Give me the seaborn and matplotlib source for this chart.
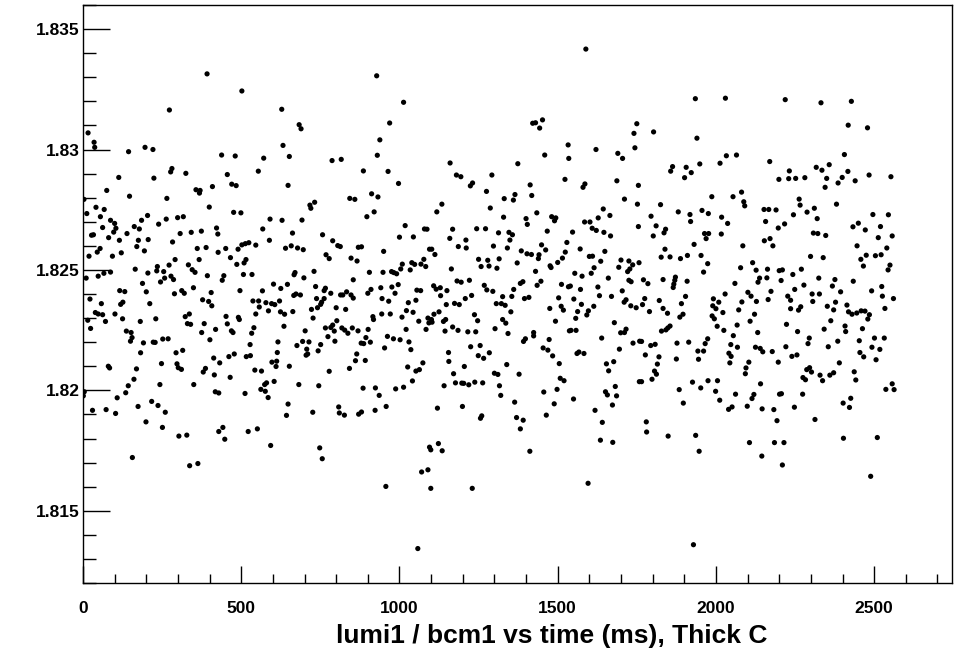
import matplotlib
matplotlib.use("Agg")
import matplotlib.pyplot as plt
from matplotlib.ticker import MultipleLocator, FuncFormatter
import seaborn as sns
import pandas as pd

plt.rcParams['font.family'] = ['Liberation Sans', 'DejaVu Sans']

# time (ms) of each measurement
time_ms = [
    # 0 - 210
    16, 35, 37, 144, 196, 113, 75, 147, 3, 12,
    41, 67, 55, 204, 185, 87, 100, 104, 33, 27,
    62, 162, 178, 139, 97, 81, 115, 175, 206, 170,
    194, 19, 54, 45, 93, 121, 165, 205, 10, 48,
    66, 87, 188, 116, 132, 200, 211, 22, 58, 126,
    119, 39, 48, 62, 15, 24, 71, 101, 125, 181,
    137, 152, 155, 150, 191, 182, 80, 84, 169, 161,
    143, 4, 1, 135, 108, 174, 30, 73, 103, 199,
    156,
    # 210 - 430
    392, 273, 221, 281, 277, 325, 224, 409, 357, 370,
    368, 265, 399, 263, 239, 299, 317, 307, 342, 374,
    422, 426, 283, 361, 389, 367, 427, 291, 272, 235,
    233, 255, 333, 345, 354, 258, 245, 278, 286, 393,
    349, 312, 320, 289, 405, 378, 397, 407, 230, 336,
    323, 330, 340, 383, 419, 375, 401, 252, 269, 222,
    228, 315, 294, 413, 432, 248, 297, 301, 311, 387,
    380, 415, 243, 350, 418, 429, 217, 237, 260, 251,
    303, 328, 429, 337, 363,
    # 430 - 655
    502, 628, 632, 438, 481, 571, 652, 554, 456, 470,
    484, 648, 476, 499, 591, 629, 568, 589, 502, 524,
    546, 513, 490, 451, 466, 486, 509, 515, 640, 445,
    440, 507, 534, 496, 567, 602, 625, 646, 537, 555,
    578, 596, 606, 621, 557, 586, 546, 624, 637, 452,
    491, 494, 456, 469, 474, 540, 533, 635, 528, 616,
    478, 461, 516, 529, 614, 597, 612, 610, 652, 543,
    564, 465, 604, 580, 574, 562, 576, 585, 512, 648,
    643, 442, 448, 522, 551, 593,
    # 655 - 875
    683, 689, 787, 816, 843, 859, 732, 717, 720, 692,
    662, 757, 789, 805, 813, 658, 678, 696, 870, 768,
    778, 847, 866, 730, 670, 667, 698, 854, 735, 766,
    762, 783, 814, 821, 833, 847, 854, 673, 666, 687,
    738, 762, 754, 751, 800, 830, 722, 741, 663, 727,
    802, 789, 783, 766, 818, 827, 837, 851, 869, 702,
    794, 774, 796, 694, 714, 676, 751, 707, 743, 865,
    710, 705, 861, 842, 778, 682, 745, 726, 808, 810,
    826, 871, 748, 756,
    # 875 - 1100
    928, 1013, 969, 938, 930, 886, 964, 997, 912, 932,
    920, 897, 1018, 1079, 1087, 1000, 1044, 880, 950, 1095,
    1077, 1068, 1083, 1039, 1048, 1034, 1009, 1004, 975, 982,
    991, 948, 905, 996, 976, 986, 941, 910, 900, 945,
    966, 1055, 1067, 1028, 1052, 1022, 1043, 1008, 971, 944,
    916, 918, 1061, 1090, 1093, 1084, 1021, 901, 894, 879,
    887, 908, 962, 981, 1002, 1030, 1036, 953, 892, 1074,
    1063, 1052, 1026, 1041, 885, 924, 936, 988, 1013, 880,
    923, 958, 1095, 1090, 1070, 957, 1058,
    # 1100 - 1320
    1160, 1180, 1194, 1292, 1231, 1224, 1275, 1287, 1134, 1118,
    1168, 1244, 1272, 1313, 1159, 1210, 1186, 1211, 1297, 1102,
    1112, 1250, 1279, 1315, 1258, 1283, 1308, 1164, 1182, 1195,
    1221, 1268, 1276, 1295, 1108, 1116, 1129, 1150, 1130, 1208,
    1228, 1148, 1174, 1189, 1306, 1125, 1109, 1101, 1103, 1146,
    1139, 1237, 1247, 1168, 1185, 1144, 1216, 1241, 1302, 1225,
    1255, 1249, 1266, 1284, 1155, 1156, 1205, 1171, 1177, 1238,
    1263, 1300, 1311, 1141, 1197, 1203, 1219, 1316, 1120, 1199,
    1260, 1256, 1123, 1099, 1135, 1099, 1230,
    # 1320 - 1540
    1421, 1430, 1452, 1443, 1459, 1533, 1535, 1374, 1523, 1413,
    1418, 1331, 1365, 1360, 1434, 1329, 1400, 1404, 1481, 1494,
    1490, 1467, 1346, 1357, 1349, 1341, 1449, 1462, 1529, 1524,
    1385, 1403, 1417, 1441, 1439, 1515, 1500, 1476, 1479, 1372,
    1430, 1447, 1435, 1390, 1382, 1361, 1512, 1534, 1355, 1326,
    1322, 1334, 1395, 1409, 1503, 1352, 1475, 1511, 1518, 1326,
    1336, 1493, 1343, 1424, 1424, 1398, 1392, 1537, 1473, 1454,
    1469, 1484, 1505, 1339, 1378, 1508, 1520, 1320, 1498, 1456,
    1364, 1489, 1464, 1370, 1391, 1382, 1412,
    # 1540 - 1760
    1589, 1750, 1741, 1744, 1621, 1690, 1705, 1687, 1586, 1580,
    1755, 1711, 1752, 1644, 1665, 1628, 1585, 1602, 1609, 1622,
    1646, 1667, 1547, 1755, 1571, 1649, 1600, 1610, 1636, 1700,
    1725, 1737, 1728, 1721, 1693, 1757, 1615, 1606, 1554, 1577,
    1660, 1725, 1732, 1540, 1572, 1627, 1632, 1670, 1704, 1551,
    1575, 1614, 1716, 1710, 1731, 1748, 1563, 1597, 1592, 1557,
    1679, 1542, 1558, 1716, 1711, 1699, 1639, 1738, 1759, 1695,
    1567, 1561, 1583, 1677, 1654, 1661, 1758, 1682, 1651, 1657,
    1686, 1550, 1618, 1673, 1641, 1635, 1674, 1596,
    # 1760 - 1980
    1935, 1803, 1940, 1863, 1857, 1906, 1922, 1901, 1949, 1825,
    1795, 1881, 1918, 1920, 1956, 1976, 1811, 1841, 1836, 1802,
    1964, 1977, 1969, 1839, 1827, 1855, 1888, 1910, 1931, 1953,
    1974, 1961, 1771, 1785, 1833, 1872, 1870, 1867, 1865, 1909,
    1904, 1775, 1768, 1821, 1833, 1847, 1891, 1790, 1896, 1886,
    1855, 1848, 1842, 1828, 1765, 1794, 1808, 1777, 1820, 1815,
    1877, 1914, 1974, 1966, 1943, 1961, 1945, 1875, 1806, 1812,
    1798, 1765, 1926, 1975, 1952, 1884, 1897, 1780, 1781, 1849,
    1936, 1947, 1929,
    # 1980 - 2200
    2030, 2013, 2033, 2065, 2170, 2199, 1987, 2054, 2081, 2088,
    2091, 2152, 2167, 2190, 2018, 2037, 2157, 2197, 2017, 2085,
    2153, 2171, 2180, 2116, 2078, 2127, 2138, 2133, 2161, 2163,
    2200, 2060, 2174, 2029, 2101, 2111, 1992, 2009, 1990, 2000,
    2022, 2082, 2128, 2165, 2072, 2122, 1988, 1995, 2004, 2108,
    2067, 2025, 2132, 2055, 2047, 2068, 2125, 2140, 2148, 2178,
    2041, 2048, 2044, 2104, 2095, 2093, 2197, 2005, 2141, 1999,
    2012, 2062, 2120, 2114, 2201, 2040, 2051, 2099, 2146, 2183,
    2193, 2106, 2185, 2145,
    # 2200 - 2425
    2219, 2332, 2418, 2406, 2358, 2317, 2335, 2232, 2230, 2252,
    2281, 2350, 2345, 2399, 2386, 2417, 2263, 2266, 2381, 2245,
    2288, 2311, 2320, 2217, 2308, 2322, 2347, 2299, 2339, 2210,
    2270, 2243, 2206, 2325, 2376, 2368, 2394, 2278, 2249, 2227,
    2236, 2304, 2327, 2306, 2236, 2261, 2268, 2352, 2378, 2372,
    2414, 2419, 2223, 2258, 2363, 2342, 2408, 2410, 2295, 2291,
    2385, 2221, 2355, 2240, 2256, 2390, 2287, 2296, 2302, 2275,
    2283, 2329, 2337, 2360, 2372, 2207, 2274, 2248, 2402, 2422,
    2313, 2403, 2215, 2210,
    # 2425 - 2565
    2428, 2479, 2440, 2484, 2553, 2496, 2545, 2433, 2450, 2472,
    2520, 2557, 2513, 2446, 2540, 2458, 2475, 2504, 2522, 2466,
    2550, 2544, 2434, 2492, 2524, 2526, 2561, 2534, 2430, 2445,
    2459, 2471, 2485, 2480, 2463, 2453, 2501, 2532, 2493, 2518,
    2455, 2467, 2506, 2437, 2442, 2537, 2557, 2563, 2426, 2510,
    2489,
]

# lumi1 / bcm1 ratio of each measurement (same order)
ratio = [
    # 0 - 210
    1.83069, 1.83030, 1.83009, 1.82991, 1.83009, 1.82884, 1.82830, 1.82806, 1.82793, 1.82734,
    1.82760, 1.82751, 1.82721, 1.82726, 1.82706, 1.82706, 1.82693, 1.82673, 1.82646, 1.82644,
    1.82676, 1.82680, 1.82670, 1.82651, 1.82657, 1.82634, 1.82623, 1.82623, 1.82626, 1.82597,
    1.82579, 1.82557, 1.82589, 1.82574, 1.82557, 1.82571, 1.82503, 1.82487, 1.82466, 1.82474,
    1.82486, 1.82491, 1.82444, 1.82414, 1.82410, 1.82409, 1.82360, 1.82379, 1.82360, 1.82366,
    1.82357, 1.82323, 1.82317, 1.82314, 1.82291, 1.82257, 1.82286, 1.82317, 1.82297, 1.82286,
    1.82246, 1.82240, 1.82219, 1.82204, 1.82197, 1.82156, 1.82100, 1.82093, 1.82089, 1.82046,
    1.82019, 1.81994, 1.81977, 1.81990, 1.81969, 1.81933, 1.81917, 1.81920, 1.81904, 1.81869,
    1.81721,
    # 210 - 430
    1.83314, 1.83164, 1.83000, 1.82921, 1.82907, 1.82901, 1.82881, 1.82846, 1.82833, 1.82830,
    1.82819, 1.82797, 1.82761, 1.82711, 1.82690, 1.82717, 1.82721, 1.82651, 1.82656, 1.82661,
    1.82674, 1.82649, 1.82616, 1.82589, 1.82593, 1.82543, 1.82573, 1.82543, 1.82520, 1.82514,
    1.82496, 1.82493, 1.82521, 1.82501, 1.82490, 1.82466, 1.82450, 1.82474, 1.82460, 1.82476,
    1.82426, 1.82414, 1.82403, 1.82401, 1.82406, 1.82376, 1.82369, 1.82351, 1.82297, 1.82317,
    1.82306, 1.82277, 1.82274, 1.82277, 1.82253, 1.82240, 1.82210, 1.82213, 1.82214, 1.82200,
    1.82199, 1.82166, 1.82156, 1.82134, 1.82114, 1.82111, 1.82110, 1.82094, 1.82087, 1.82091,
    1.82076, 1.82064, 1.82024, 1.82024, 1.81994, 1.81989, 1.81954, 1.81937, 1.81909, 1.81846,
    1.81810, 1.81814, 1.81829, 1.81687, 1.81696,
    # 430 - 655
    1.83243, 1.83167, 1.83017, 1.82977, 1.82973, 1.82964, 1.82971, 1.82910, 1.82896, 1.82856,
    1.82850, 1.82851, 1.82739, 1.82737, 1.82711, 1.82706, 1.82670, 1.82623, 1.82604, 1.82613,
    1.82603, 1.82609, 1.82586, 1.82589, 1.82551, 1.82523, 1.82529, 1.82543, 1.82590, 1.82476,
    1.82457, 1.82481, 1.82481, 1.82414, 1.82413, 1.82441, 1.82423, 1.82440, 1.82371, 1.82371,
    1.82364, 1.82360, 1.82356, 1.82371, 1.82346, 1.82330, 1.82317, 1.82326, 1.82316, 1.82307,
    1.82303, 1.82294, 1.82276, 1.82247, 1.82240, 1.82260, 1.82237, 1.82266, 1.82190, 1.82201,
    1.82151, 1.82140, 1.82140, 1.82144, 1.82157, 1.82117, 1.82121, 1.82099, 1.82100, 1.82084,
    1.82080, 1.82054, 1.82037, 1.82031, 1.82024, 1.82004, 1.81996, 1.81970, 1.81987, 1.81943,
    1.81896, 1.81846, 1.81797, 1.81829, 1.81840, 1.81771,
    # 655 - 875
    1.83103, 1.83086, 1.82954, 1.82959, 1.82797, 1.82793, 1.82781, 1.82769, 1.82756, 1.82707,
    1.82653, 1.82646, 1.82621, 1.82601, 1.82597, 1.82600, 1.82591, 1.82584, 1.82594, 1.82563,
    1.82547, 1.82549, 1.82537, 1.82494, 1.82489, 1.82480, 1.82467, 1.82459, 1.82431, 1.82424,
    1.82414, 1.82403, 1.82396, 1.82396, 1.82409, 1.82396, 1.82383, 1.82400, 1.82394, 1.82396,
    1.82381, 1.82381, 1.82366, 1.82357, 1.82343, 1.82336, 1.82336, 1.82343, 1.82327, 1.82300,
    1.82289, 1.82271, 1.82261, 1.82259, 1.82259, 1.82250, 1.82237, 1.82259, 1.82247, 1.82247,
    1.82246, 1.82223, 1.82204, 1.82203, 1.82201, 1.82186, 1.82190, 1.82171, 1.82164, 1.82151,
    1.82151, 1.82146, 1.82123, 1.82091, 1.82079, 1.82024, 1.82019, 1.81909, 1.81931, 1.81906,
    1.81897, 1.81901, 1.81761, 1.81716,
    # 875 - 1100
    1.83306, 1.83196, 1.83110, 1.83040, 1.82976, 1.82911, 1.82909, 1.82859, 1.82816, 1.82803,
    1.82741, 1.82721, 1.82684, 1.82670, 1.82669, 1.82636, 1.82637, 1.82596, 1.82577, 1.82586,
    1.82544, 1.82524, 1.82514, 1.82530, 1.82523, 1.82500, 1.82524, 1.82504, 1.82493, 1.82489,
    1.82484, 1.82490, 1.82490, 1.82439, 1.82429, 1.82403, 1.82426, 1.82419, 1.82403, 1.82381,
    1.82370, 1.82416, 1.82414, 1.82364, 1.82374, 1.82331, 1.82324, 1.82304, 1.82317, 1.82317,
    1.82306, 1.82294, 1.82287, 1.82300, 1.82280, 1.82253, 1.82253, 1.82253, 1.82219, 1.82196,
    1.82194, 1.82200, 1.82224, 1.82214, 1.82210, 1.82201, 1.82169, 1.82176, 1.82124, 1.82114,
    1.82086, 1.82080, 1.82097, 1.82039, 1.82009, 1.82010, 1.81979, 1.82006, 1.82013, 1.81910,
    1.81917, 1.81933, 1.81764, 1.81670, 1.81661, 1.81601, 1.81343,
    # 1100 - 1320
    1.82944, 1.82894, 1.82887, 1.82894, 1.82861, 1.82849, 1.82826, 1.82757, 1.82773, 1.82741,
    1.82669, 1.82671, 1.82671, 1.82654, 1.82631, 1.82624, 1.82597, 1.82591, 1.82599, 1.82586,
    1.82564, 1.82544, 1.82540, 1.82546, 1.82514, 1.82516, 1.82507, 1.82504, 1.82454, 1.82449,
    1.82457, 1.82436, 1.82417, 1.82411, 1.82434, 1.82420, 1.82426, 1.82414, 1.82393, 1.82381,
    1.82394, 1.82356, 1.82361, 1.82356, 1.82360, 1.82326, 1.82316, 1.82294, 1.82283, 1.82294,
    1.82286, 1.82314, 1.82289, 1.82263, 1.82249, 1.82246, 1.82243, 1.82243, 1.82256, 1.82181,
    1.82186, 1.82144, 1.82133, 1.82156, 1.82157, 1.82120, 1.82099, 1.82069, 1.82031, 1.82034,
    1.82031, 1.82071, 1.82066, 1.82019, 1.82030, 1.82029, 1.82023, 1.82019, 1.81926, 1.81933,
    1.81894, 1.81884, 1.81779, 1.81753, 1.81749, 1.81593, 1.81593,
    # 1320 - 1540
    1.83109, 1.83111, 1.83123, 1.83089, 1.82977, 1.83019, 1.82963, 1.82941, 1.82876, 1.82853,
    1.82809, 1.82796, 1.82813, 1.82790, 1.82737, 1.82719, 1.82713, 1.82689, 1.82721, 1.82716,
    1.82704, 1.82661, 1.82656, 1.82646, 1.82624, 1.82591, 1.82604, 1.82583, 1.82614, 1.82574,
    1.82579, 1.82567, 1.82564, 1.82563, 1.82547, 1.82549, 1.82531, 1.82517, 1.82510, 1.82529,
    1.82494, 1.82453, 1.82436, 1.82451, 1.82444, 1.82419, 1.82440, 1.82430, 1.82390, 1.82389,
    1.82360, 1.82353, 1.82381, 1.82386, 1.82384, 1.82326, 1.82340, 1.82349, 1.82333, 1.82294,
    1.82279, 1.82287, 1.82236, 1.82240, 1.82226, 1.82214, 1.82203, 1.82247, 1.82211, 1.82176,
    1.82167, 1.82143, 1.82111, 1.82107, 1.82067, 1.82050, 1.82040, 1.81979, 1.82004, 1.81993,
    1.81951, 1.81944, 1.81897, 1.81887, 1.81876, 1.81840, 1.81747,
    # 1540 - 1760
    1.83417, 1.83107, 1.83067, 1.83007, 1.83000, 1.82984, 1.82963, 1.82870, 1.82857, 1.82843,
    1.82851, 1.82794, 1.82773, 1.82753, 1.82726, 1.82716, 1.82699, 1.82699, 1.82673, 1.82664,
    1.82656, 1.82641, 1.82657, 1.82680, 1.82587, 1.82577, 1.82556, 1.82557, 1.82536, 1.82541,
    1.82537, 1.82521, 1.82504, 1.82493, 1.82511, 1.82530, 1.82509, 1.82486, 1.82486, 1.82474,
    1.82466, 1.82457, 1.82451, 1.82433, 1.82419, 1.82429, 1.82393, 1.82390, 1.82413, 1.82379,
    1.82357, 1.82349, 1.82376, 1.82366, 1.82351, 1.82343, 1.82327, 1.82330, 1.82313, 1.82299,
    1.82281, 1.82249, 1.82249, 1.82254, 1.82240, 1.82239, 1.82217, 1.82196, 1.82204, 1.82171,
    1.82159, 1.82153, 1.82153, 1.82119, 1.82110, 1.82081, 1.82036, 1.82016, 1.81994, 1.81981,
    1.81977, 1.81964, 1.81917, 1.81939, 1.81867, 1.81793, 1.81784, 1.81614,
    # 1760 - 1980
    1.83211, 1.83073, 1.83047, 1.82929, 1.82910, 1.82926, 1.82904, 1.82883, 1.82940, 1.82771,
    1.82723, 1.82741, 1.82730, 1.82701, 1.82747, 1.82734, 1.82683, 1.82669, 1.82654, 1.82641,
    1.82651, 1.82651, 1.82630, 1.82586, 1.82553, 1.82554, 1.82547, 1.82560, 1.82606, 1.82560,
    1.82526, 1.82491, 1.82459, 1.82443, 1.82460, 1.82470, 1.82457, 1.82441, 1.82427, 1.82453,
    1.82390, 1.82381, 1.82356, 1.82373, 1.82340, 1.82320, 1.82360, 1.82327, 1.82316, 1.82304,
    1.82267, 1.82259, 1.82251, 1.82246, 1.82203, 1.82186, 1.82191, 1.82147, 1.82139, 1.82109,
    1.82196, 1.82200, 1.82214, 1.82194, 1.82163, 1.82163, 1.82129, 1.82130, 1.82080, 1.82067,
    1.82046, 1.82036, 1.82034, 1.82040, 1.82010, 1.82003, 1.81947, 1.81869, 1.81827, 1.81810,
    1.81813, 1.81747, 1.81359,
    # 1980 - 2200
    1.83213, 1.82943, 1.82974, 1.82977, 1.82950, 1.82876, 1.82804, 1.82804, 1.82823, 1.82783,
    1.82766, 1.82751, 1.82751, 1.82749, 1.82719, 1.82693, 1.82701, 1.82674, 1.82649, 1.82600,
    1.82621, 1.82630, 1.82600, 1.82530, 1.82509, 1.82499, 1.82466, 1.82449, 1.82467, 1.82503,
    1.82497, 1.82444, 1.82411, 1.82400, 1.82407, 1.82391, 1.82380, 1.82366, 1.82351, 1.82339,
    1.82323, 1.82367, 1.82369, 1.82377, 1.82334, 1.82316, 1.82309, 1.82297, 1.82266, 1.82287,
    1.82271, 1.82249, 1.82240, 1.82227, 1.82190, 1.82179, 1.82179, 1.82174, 1.82160, 1.82161,
    1.82154, 1.82141, 1.82114, 1.82117, 1.82093, 1.82069, 1.82117, 1.82040, 1.82027, 1.81996,
    1.81959, 1.81984, 1.81983, 1.81966, 1.81984, 1.81921, 1.81931, 1.81934, 1.81923, 1.81920,
    1.81874, 1.81783, 1.81783, 1.81727,
    # 2200 - 2425
    1.83207, 1.83194, 1.83101, 1.82979, 1.82937, 1.82926, 1.82914, 1.82911, 1.82879, 1.82880,
    1.82883, 1.82880, 1.82843, 1.82884, 1.82861, 1.82909, 1.82794, 1.82769, 1.82773, 1.82729,
    1.82740, 1.82756, 1.82713, 1.82691, 1.82653, 1.82651, 1.82643, 1.82556, 1.82551, 1.82500,
    1.82503, 1.82481, 1.82456, 1.82466, 1.82460, 1.82433, 1.82409, 1.82437, 1.82419, 1.82391,
    1.82374, 1.82400, 1.82400, 1.82369, 1.82339, 1.82333, 1.82347, 1.82349, 1.82366, 1.82334,
    1.82354, 1.82326, 1.82274, 1.82244, 1.82289, 1.82254, 1.82267, 1.82244, 1.82217, 1.82194,
    1.82204, 1.82181, 1.82181, 1.82141, 1.82147, 1.82114, 1.82086, 1.82094, 1.82076, 1.82053,
    1.82044, 1.82063, 1.82040, 1.82063, 1.82073, 1.81986, 1.81984, 1.81930, 1.81947, 1.81929,
    1.81879, 1.81801, 1.81783, 1.81690,
    # 2425 - 2565
    1.83200, 1.83090, 1.82870, 1.82894, 1.82887, 1.82730, 1.82729, 1.82679, 1.82694, 1.82666,
    1.82680, 1.82641, 1.82634, 1.82600, 1.82591, 1.82544, 1.82561, 1.82559, 1.82563, 1.82516,
    1.82520, 1.82500, 1.82453, 1.82413, 1.82431, 1.82391, 1.82381, 1.82340, 1.82316, 1.82321,
    1.82330, 1.82329, 1.82314, 1.82296, 1.82256, 1.82206, 1.82217, 1.82217, 1.82179, 1.82170,
    1.82157, 1.82139, 1.82127, 1.82077, 1.82043, 1.82004, 1.82027, 1.82003, 1.81967, 1.81804,
    1.81643,
]

assert len(time_ms) == len(ratio), (len(time_ms), len(ratio))

x_ticks = [0, 500, 1000, 1500, 2000, 2500]
y_ticks = [1.815, 1.82, 1.825, 1.83, 1.835]
x_title = "lumi1 / bcm1 vs time (ms), Thick C"

df = pd.DataFrame({"t": time_ms, "r": ratio})

W, H = 959, 658
fig = plt.figure(figsize=(W / 100, H / 100), dpi=100)
left, right, top, bottom = 83, 952, 5, 583
ax = fig.add_axes([left / W, 1 - bottom / H, (right - left) / W, (bottom - top) / H])

sns.scatterplot(data=df, x="t", y="r", ax=ax, color="black", s=14,
                linewidth=0, edgecolor="none", legend=False)

ax.set_xlim(0, 2746)
ax.set_ylim(1.8120, 1.8360)

ax.set_xticks(x_ticks)
ax.set_yticks(y_ticks)
ax.xaxis.set_minor_locator(MultipleLocator(100))
ax.yaxis.set_minor_locator(MultipleLocator(0.001))
ax.yaxis.set_major_formatter(FuncFormatter(lambda v, p: f"{v:g}"))
ax.xaxis.set_major_formatter(FuncFormatter(lambda v, p: f"{v:g}"))

ax.tick_params(axis="y", which="major", direction="in", length=19.5, width=1,
               pad=2.5, labelsize=12.5, left=True, right=False)
ax.tick_params(axis="y", which="minor", direction="in", length=9.5, width=1,
               left=True, right=False)
ax.tick_params(axis="x", which="major", direction="in", length=12.5, width=1,
               pad=13, labelsize=12.5, bottom=True, top=False)
ax.tick_params(axis="x", which="minor", direction="in", length=6.5, width=1,
               bottom=True, top=False)
for lbl in ax.get_xticklabels() + ax.get_yticklabels():
    lbl.set_fontweight("bold")

for sp in ax.spines.values():
    sp.set_color("black")
    sp.set_linewidth(1)

ax.set_ylabel("")
ax.set_xlabel(x_title, fontsize=19, fontweight="bold")
ax.xaxis.set_label_coords((552 - left) / (right - left), -(636 - bottom) / (bottom - top))
ax.xaxis.label.set_va("center")
ax.xaxis.label.set_ha("center")

fig.savefig("out.png", dpi=100, facecolor="white")
